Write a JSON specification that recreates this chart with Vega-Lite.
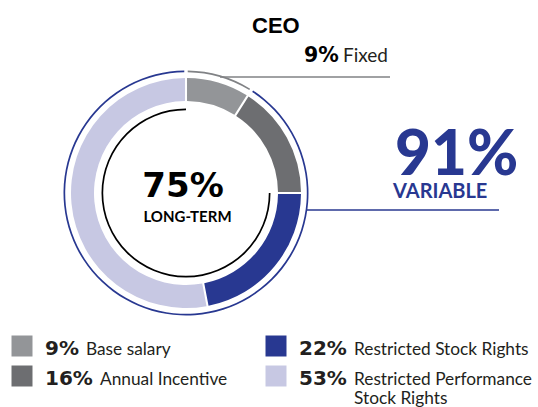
{
  "$schema": "https://vega.github.io/schema/vega-lite/v6.json",
  "width": 538,
  "height": 407,
  "autosize": {"type": "none"},
  "padding": 0,
  "background": "white",
  "config": {"view": {"stroke": null}},
  "datasets": {
    "pay": [
      {"part": "Base salary", "pct": 0.09, "term": "Short-term", "perf": "No", "label": "Base salary"},
      {"part": "Annual Incentive", "pct": 0.16, "term": "Short-term", "perf": "Yes", "label": "Annual Incentive"},
      {"part": "Restricted Stock Rights", "pct": 0.22, "term": "Long-term", "perf": "No", "label": "Restricted Stock Rights"},
      {"part": "Restricted Performance Stock Rights", "pct": 0.53, "term": "Long-term", "perf": "Yes", "label": "Restricted Performance\nStock Rights"}
    ],
    "mix": [
      {"part": "Fixed", "pct": 0.09},
      {"part": "Variable", "pct": 0.91}
    ],
    "horizon": [
      {"part": "Short-term", "pct": 0.25},
      {"part": "Long-term", "pct": 0.75}
    ]
  },
  "resolve": {"scale": {"x": "independent", "y": "independent"}},
  "layer": [
    {
      "layer": [
        {
          "data": {"name": "pay"},
          "mark": {"type": "arc", "radius": 115, "radius2": 92, "padAngle": 0.014},
          "encoding": {
            "x": {"datum": 186, "type": "quantitative", "scale": {"domain": [0, 538], "nice": false, "zero": false}, "axis": null},
            "y": {"datum": 193, "type": "quantitative", "scale": {"domain": [0, 407], "nice": false, "zero": false, "reverse": true}, "axis": null},
            "theta": {"field": "pct", "type": "quantitative", "stack": true},
            "order": {"field": "pct", "sort": "ascending"},
            "color": {"field": "part", "type": "nominal", "legend": null,
              "scale": {"domain": ["Base salary", "Annual Incentive", "Restricted Stock Rights", "Restricted Performance Stock Rights", "Fixed", "Variable", "Short-term", "Long-term"],
                        "range": ["#939598", "#6d6e71", "#283891", "#c7c8e3", "#808285", "#283891", "transparent", "#000000"]}}
          }
        },
        {
          "data": {"name": "mix"},
          "mark": {"type": "arc", "radius": 122.5, "radius2": 120.8, "padAngle": 0.02},
          "encoding": {
            "x": {"datum": 186, "type": "quantitative"},
            "y": {"datum": 193, "type": "quantitative"},
            "theta": {"field": "pct", "type": "quantitative", "stack": true},
            "order": {"field": "pct", "sort": "ascending"},
            "color": {"field": "part", "type": "nominal", "legend": null}
          }
        },
        {
          "data": {"name": "horizon"},
          "mark": {"type": "arc", "radius": 84.5, "radius2": 82.8},
          "encoding": {
            "x": {"datum": 186, "type": "quantitative"},
            "y": {"datum": 193, "type": "quantitative"},
            "theta": {"field": "pct", "type": "quantitative", "stack": true},
            "order": {"field": "pct", "sort": "ascending"},
            "color": {"field": "part", "type": "nominal", "legend": null}
          }
        },
        {
          "data": {"values": [{}]},
          "mark": {"type": "rule", "color": "#808285", "strokeWidth": 1.6},
          "encoding": {
            "x": {"datum": 220, "type": "quantitative"},
            "x2": {"datum": 390},
            "y": {"datum": 77, "type": "quantitative"}
          }
        },
        {
          "data": {"values": [{}]},
          "mark": {"type": "rule", "color": "#283891", "strokeWidth": 1.6},
          "encoding": {
            "x": {"datum": 307, "type": "quantitative"},
            "x2": {"datum": 499},
            "y": {"datum": 210, "type": "quantitative"}
          }
        },
        {
          "data": {"values": [{}]},
          "mark": {"type": "text", "text": "CEO", "font": "Liberation Sans", "fontWeight": "bold", "fontSize": 22, "align": "left", "baseline": "alphabetic", "color": "#000000"},
          "encoding": {"x": {"datum": 252, "type": "quantitative"}, "y": {"datum": 33, "type": "quantitative"}}
        },
        {
          "data": {"values": [{}]},
          "mark": {"type": "text", "text": "9%", "font": "DejaVu Sans", "fontWeight": "bold", "fontSize": 20.5, "align": "left", "baseline": "alphabetic", "color": "#000000"},
          "encoding": {"x": {"datum": 304, "type": "quantitative"}, "y": {"datum": 62, "type": "quantitative"}}
        },
        {
          "data": {"values": [{}]},
          "mark": {"type": "text", "text": "Fixed", "font": "Lato", "fontSize": 19, "align": "left", "baseline": "alphabetic", "color": "#231f20"},
          "encoding": {"x": {"datum": 343, "type": "quantitative"}, "y": {"datum": 62, "type": "quantitative"}}
        },
        {
          "data": {"values": [{}]},
          "mark": {"type": "text", "text": "91%", "font": "Lato", "fontWeight": 900, "fontSize": 62, "align": "left", "baseline": "alphabetic", "color": "#283891"},
          "encoding": {"x": {"datum": 395, "type": "quantitative"}, "y": {"datum": 175, "type": "quantitative"}}
        },
        {
          "data": {"values": [{}]},
          "mark": {"type": "text", "text": "VARIABLE", "font": "Lato", "fontWeight": "bold", "fontSize": 20, "align": "left", "baseline": "alphabetic", "color": "#283891"},
          "encoding": {"x": {"datum": 393, "type": "quantitative"}, "y": {"datum": 198, "type": "quantitative"}}
        },
        {
          "data": {"values": [{}]},
          "mark": {"type": "text", "text": "75%", "font": "DejaVu Sans", "fontWeight": "bold", "fontSize": 34, "align": "center", "baseline": "alphabetic", "color": "#000000"},
          "encoding": {"x": {"datum": 183, "type": "quantitative"}, "y": {"datum": 197, "type": "quantitative"}}
        },
        {
          "data": {"values": [{}]},
          "mark": {"type": "text", "text": "LONG-TERM", "font": "Lato", "fontWeight": "bold", "fontSize": 15, "align": "center", "baseline": "alphabetic", "color": "#000000"},
          "encoding": {"x": {"datum": 187.5, "type": "quantitative"}, "y": {"datum": 222, "type": "quantitative"}}
        }
      ]
    },
    {
      "data": {"name": "pay"},
      "encoding": {
        "x": {"field": "term", "type": "nominal", "scale": {"type": "point", "padding": 0, "domain": ["Short-term", "Long-term"], "range": [22, 276]}, "axis": null},
        "y": {"field": "perf", "type": "nominal", "scale": {"type": "point", "padding": 0, "domain": ["No", "Yes"], "range": [346, 376]}, "axis": null}
      },
      "layer": [
        {
          "mark": {"type": "square", "size": 441, "filled": true, "opacity": 1},
          "encoding": {
            "color": {"field": "part", "type": "nominal", "legend": null}
          }
        },
        {
          "mark": {"type": "text", "align": "left", "baseline": "alphabetic", "dx": 23, "dy": 9, "font": "DejaVu Sans", "fontWeight": "bold", "fontSize": 20, "color": "#231f20"},
          "encoding": {
            "text": {"field": "pct", "type": "quantitative", "format": ".0%"}
          }
        },
        {
          "transform": [{"filter": "datum.pct < 0.1"}],
          "mark": {"type": "text", "align": "left", "baseline": "alphabetic", "dx": 64, "dy": 9, "font": "Lato", "fontSize": 17.3, "lineBreak": "\n", "lineHeight": 19, "color": "#231f20"},
          "encoding": {
            "text": {"field": "label", "type": "nominal"}
          }
        },
        {
          "transform": [{"filter": "datum.pct >= 0.1"}],
          "mark": {"type": "text", "align": "left", "baseline": "alphabetic", "dx": 78, "dy": 9, "font": "Lato", "fontSize": 17.3, "lineBreak": "\n", "lineHeight": 19, "color": "#231f20"},
          "encoding": {
            "text": {"field": "label", "type": "nominal"}
          }
        }
      ]
    }
  ]
}
